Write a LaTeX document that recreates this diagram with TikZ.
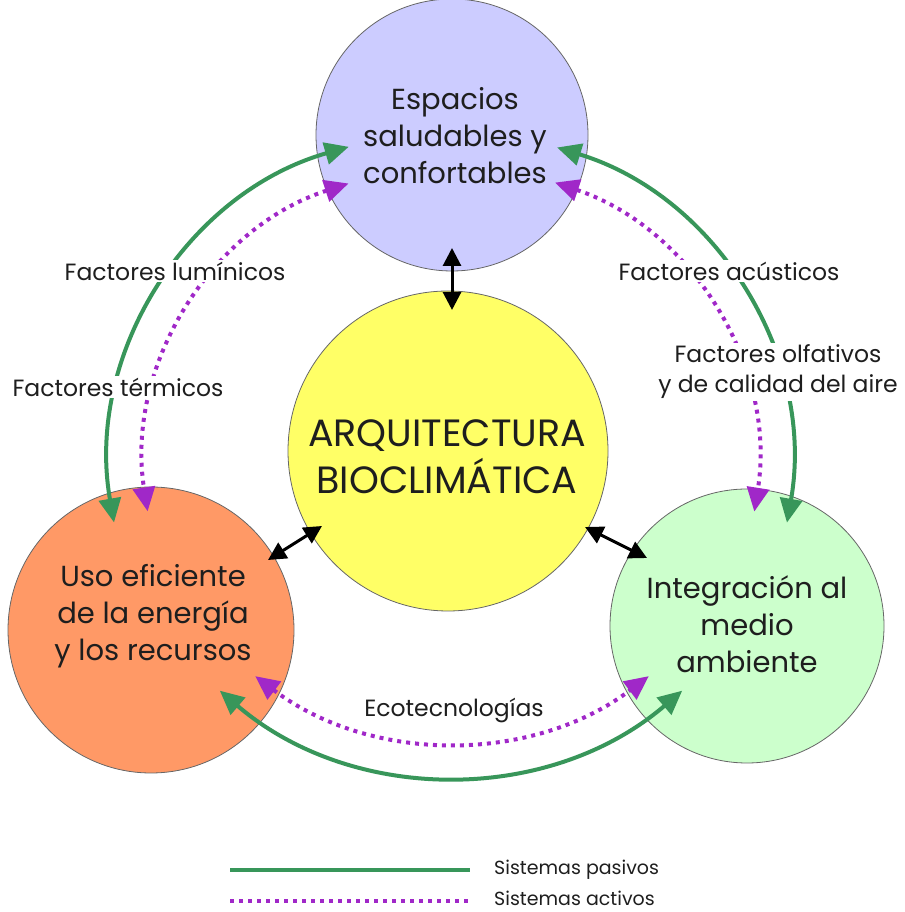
\documentclass[tikz,border=0pt]{standalone}
\usepackage{fontspec}
\setmainfont{Poppins}
\usetikzlibrary{arrows.meta}
\definecolor{cPurple}{RGB}{204,204,255}
\definecolor{cYellow}{RGB}{255,255,102}
\definecolor{cOrange}{RGB}{255,153,102}
\definecolor{cGreen}{RGB}{204,255,204}
\definecolor{lineGreen}{RGB}{56,150,90}
\definecolor{lineViolet}{RGB}{160,40,200}
\definecolor{txt}{RGB}{30,30,30}
\begin{document}
\begin{tikzpicture}[x=1pt,y=1pt,
  bubble/.style={circle, draw=gray!80!black, line width=0.8pt, inner sep=0pt},
  bigtext/.style={align=center, text=txt, font=\fontsize{29}{37}\selectfont},
  passive/.style={draw=lineGreen, line width=4pt,
    {Triangle[length=24pt,width=22pt]}-{Triangle[length=24pt,width=22pt]}},
  active/.style={draw=lineViolet, line width=4pt, dash pattern=on 4pt off 5pt,
    {Triangle[length=24pt,width=22pt]}-{Triangle[length=24pt,width=22pt]}},
  linkarrow/.style={draw=black, line width=3pt,
    {Triangle[length=18pt,width=18pt]}-{Triangle[length=18pt,width=18pt]}},
  lbl/.style={fill=white, inner sep=2pt, align=center, text=txt, font=\fontsize{23.5}{30}\selectfont},
  legtext/.style={anchor=west, text=txt, inner sep=1pt, font=\fontsize{19}{22}\selectfont}]
\useasboundingbox (0,0) rectangle (904,912);

% circles
\node[bubble, fill=cPurple, minimum size=272pt] (espacios) at (452,777) {};
\node[bubble, fill=cYellow, minimum size=320pt] (arq) at (448,461) {};
\node[bubble, fill=cOrange, minimum size=286pt] (uso) at (151,282) {};
\node[bubble, fill=cGreen, minimum size=274pt] (integ) at (747,286) {};

\node[bigtext] (tEsp) at (455,776) {Espacios\\saludables y\\confortables};
\node[align=center, text=txt, font=\fontsize{38}{47}\selectfont] (tArq) at (447,455) {ARQUITECTURA\\BIOCLIMÁTICA};
\node[bigtext] (tUso) at (153,296) {Uso eficiente\\de la energía\\y los recursos};
\node[bigtext] (tInt) at (747,288) {Integración al\\medio\\ambiente};

% arc centres
\coordinate (lc) at (440,447);
\coordinate (rc) at (460,447);
\coordinate (bcg) at (451,492);
\coordinate (bca) at (452,497);

% left arcs
\draw[passive] (lc) ++(106:331) arc[start angle=106, end angle=190, radius=331];
\draw[active] (lc) ++(108:296) arc[start angle=108, end angle=189, radius=296];
% right arcs
\draw[passive] (rc) ++(73:332) arc[start angle=73, end angle=-10, radius=332];
\draw[active] (rc) ++(71.4:298) arc[start angle=71.4, end angle=-9, radius=298];
% bottom arcs
\draw[passive] (bcg) ++(229.5:356) arc[start angle=229.5, end angle=310.5, radius=356];
\draw[active] (bca) ++(233:327) arc[start angle=233, end angle=307, radius=327];

% labels
\node[lbl] (lLum) at (175,641) {Factores lumínicos};
\node[lbl] (lTer) at (118,525) {Factores térmicos};
\node[lbl] (lAcu) at (729,641) {Factores acústicos};
\node[lbl] (lOlf) at (778,540) {Factores olfativos\\y de calidad del aire};
\node[lbl] (lEco) at (454,202) {Ecotecnologías};

% black links
\coordinate (a1) at (452,664);
\coordinate (a2) at (452,602);
\coordinate (b1) at (268,352);
\coordinate (b2) at (322,386);
\coordinate (c1) at (585,385);
\coordinate (c2) at (647,354);
\draw[linkarrow] (a1) -- (a2);
\draw[linkarrow] (b1) -- (b2);
\draw[linkarrow] (c1) -- (c2);

% legend
\coordinate (lg1) at (230,42);
\coordinate (lg2) at (470,42);
\coordinate (la1) at (230,11);
\coordinate (la2) at (470,11);
\draw[draw=lineGreen, line width=4pt] (lg1) -- (lg2);
\draw[draw=lineViolet, line width=4pt, dash pattern=on 4pt off 5pt] (la1) -- (la2);
\node[legtext] (legP) at (493,42) {Sistemas pasivos};
\node[legtext] (legA) at (493,14) {Sistemas activos};
\end{tikzpicture}
\end{document}
